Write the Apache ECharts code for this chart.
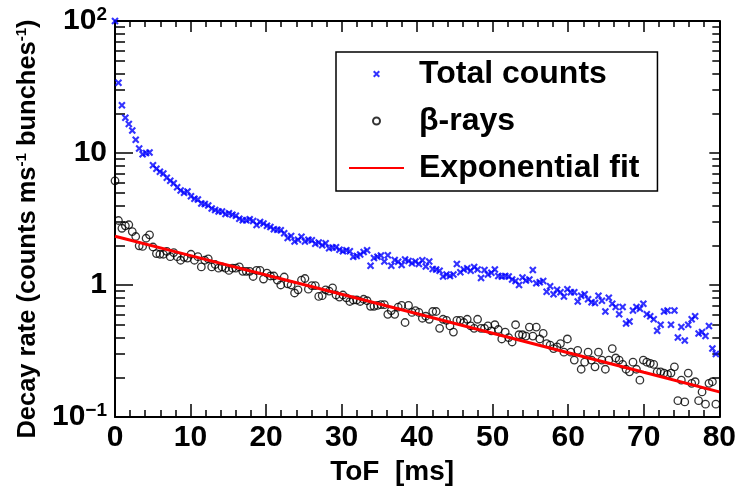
<!DOCTYPE html>
<html>
<head>
<meta charset="utf-8">
<script src="https://cdn.jsdelivr.net/npm/echarts@6/dist/echarts.min.js"></script>
<style>html,body{margin:0;padding:0;background:#fff}#c{width:739px;height:492px}</style>
</head>
<body>
<div id="c"></div>
<script>
// ---- data ----
const binWidth = 80 / 175;               // histogram bin width in ms
const totalCounts = [
  100, 34, 23, 18.5, 16.6, 14.8, 12.6, 10.8, 9.8, 10.0, 10.1, 8.07, 7.6, 7.2, 7.0, 6.5, 6.15, 5.9, 5.5, 5.2,
  5.0, 5.1, 4.7, 4.5, 4.45, 4.15, 4.1, 4.0, 3.8, 3.7, 3.6, 3.6, 3.45, 3.5, 3.4, 3.35, 3.17, 3.1, 3.1, 3.15,
  3.06, 2.85, 3.0, 2.92,
  2.81, 2.75, 2.65, 2.62, 2.6, 2.47, 2.27, 2.35, 2.14, 2.2, 2.32, 2.14, 2.2, 2.18, 2.05, 2.1, 2.0, 2.07, 1.9, 1.92,
  1.93, 1.85, 1.8, 1.83, 1.8, 1.64, 1.66, 1.7, 1.78, 1.83, 1.4, 1.6, 1.64, 1.67, 1.51, 1.68, 1.4, 1.55, 1.5, 1.42,
  1.56, 1.52, 1.46,
  1.51, 1.44, 1.54, 1.38, 1.51, 1.32, 1.31, 1.28, 1.16, 1.2, 1.17, 1.2, 1.44, 1.25, 1.31, 1.34, 1.28, 1.37, 1.31, 1.13,
  1.3, 1.2, 1.24, 1.31, 1.17, 1.16, 1.17, 1.16, 1.1, 1.07, 1.0, 1.14, 1.08, 1.1, 1.3, 1.03, 1.05, 1.07,
  0.89, 0.98, 0.85, 0.92, 0.88, 0.82, 0.93, 0.88, 0.88, 0.75, 0.83, 0.85, 0.78, 0.74, 0.73, 0.83, 0.76, 0.63, 0.8, 0.72,
  0.68, 0.6, 0.68, 0.51, 0.53, 0.64, 0.68, 0.66, 0.72, 0.6, 0.58, 0.55, 0.45, 0.5, 0.63, 0.64, 0.5, 0.64, 0.4, 0.48,
  0.38, 0.5, 0.55, 0.58, 0.43, 0.44, 0.41, 0.49, 0.33, 0.3
];
const betaRays = [
  6.15, 3.08, 2.69, 2.81, 2.86, 2.54, 2.33, 1.98, 1.96, 2.26, 2.4, 1.94, 1.73, 1.71, 1.71, 1.80, 1.64, 1.76, 1.64, 1.54,
  1.62, 1.6, 1.71, 1.54, 1.64, 1.37, 1.54, 1.58, 1.37, 1.43, 1.34, 1.37, 1.34, 1.29, 1.34, 1.34, 1.37, 1.27, 1.27, 1.27,
  1.16, 1.29, 1.29, 1.11, 1.23,
  1.17, 1.17, 1.09, 1.0, 1.15, 1.02, 1.0, 0.87, 0.92, 1.09, 1.12, 0.93, 0.99, 0.99, 0.82, 0.83, 0.92, 0.9, 0.95, 0.84,
  0.81, 0.84, 0.80, 0.75, 0.77, 0.77, 0.75, 0.78, 0.76, 0.69, 0.69, 0.70, 0.71, 0.71, 0.6, 0.64, 0.6, 0.68, 0.70, 0.52,
  0.70, 0.62, 0.64,
  0.62, 0.56, 0.58, 0.55, 0.63, 0.63, 0.47, 0.55, 0.54, 0.49, 0.44, 0.54, 0.54, 0.52, 0.55, 0.49, 0.47, 0.55, 0.47, 0.47,
  0.49, 0.45, 0.5, 0.46, 0.39, 0.44, 0.40, 0.37, 0.5, 0.42, 0.42, 0.41, 0.48, 0.41, 0.48, 0.39, 0.43, 0.36, 0.35,
  0.33, 0.34, 0.36, 0.31, 0.39,
  0.31, 0.27, 0.32, 0.23, 0.26, 0.31, 0.27, 0.24, 0.31, 0.27, 0.23, 0.27, 0.33, 0.28, 0.27, 0.25, 0.23, 0.22, 0.26,
  0.23, 0.19, 0.27, 0.26, 0.255, 0.25, 0.22, 0.22, 0.215, 0.21, 0.215, 0.24, 0.133, 0.19, 0.13, 0.215, 0.18, 0.185, 0.133, 0.155,
  0.125, 0.18, 0.185, 0.125
];
const fitTimes  = [0, 10, 20, 30, 40, 50, 60, 70, 80];
const fitValues = [2.34, 1.67, 1.19, 0.85, 0.605, 0.431, 0.307, 0.218, 0.155];

const xTickValues = [0, 10, 20, 30, 40, 50, 60, 70, 80];
const yMajorTicks = [0.1, 1, 10, 100];
const yTickBase   = ['10', '1', '10', '10'];
const yTickExp    = ['\u22121', '', '', '2'];
const yMinorTicks = [0.2,0.3,0.4,0.5,0.6,0.7,0.8,0.9, 2,3,4,5,6,7,8,9, 20,30,40,50,60,70,80,90];

const seriesNames = ['Total counts', '\u03b2-rays', 'Exponential fit'];
const xTitle = 'ToF  [ms]';

// ---- chart ----
const FONT = '"Liberation Sans", Arial, Helvetica, sans-serif';
const BLACK = '#000';
const crossPath = 'path://M0,2L2,0L5,3L8,0L10,2L7,5L10,8L8,10L5,7L2,10L0,8L3,5Z';

const chart = echarts.init(document.getElementById('c'), null, {renderer: 'canvas'});

function yLabel(v) {
  const k = yMajorTicks.findIndex(t => Math.abs(Math.log10(t) - Math.log10(v)) < 1e-6);
  if (k < 0) return '';
  return yTickExp[k] ? '{n|' + yTickBase[k] + '}{s|' + yTickExp[k] + '}' : '{n|' + yTickBase[k] + '}';
}

const logBase = {type: 'log', logBase: 10, min: 0.1, max: 100, splitLine: {show: false}};

chart.setOption({
  animation: false,
  backgroundColor: '#fff',
  grid: {left: 115, right: 15, top: 21, bottom: 75, containLabel: false},
  legend: {
    orient: 'vertical', left: 336, top: 52,
    padding: [6, 18, 7, 12], itemGap: 15, itemWidth: 55, itemHeight: 7,
    borderColor: BLACK, borderWidth: 1.5, backgroundColor: '#fff',
    textStyle: {fontFamily: FONT, fontSize: 32, fontWeight: 'bold', color: BLACK, padding: [0, 0, 0, 10]},
    data: [
      {name: seriesNames[0]},
      {name: seriesNames[1]},
      {name: seriesNames[2], itemStyle: {opacity: 0}}
    ]
  },
  xAxis: [
    {
      type: 'value', min: 0, max: 80, interval: 10, position: 'bottom',
      name: xTitle, nameLocation: 'middle', nameGap: 33,
      nameTextStyle: {fontFamily: FONT, fontSize: 28, fontWeight: 'bold', color: BLACK, padding: [0, 50, 0, 0]},
      axisLine: {show: true, onZero: false, lineStyle: {color: BLACK, width: 2}},
      axisTick: {show: true, inside: true, length: 13, lineStyle: {color: BLACK, width: 1.5}},
      minorTick: {show: true, splitNumber: 5, length: 7, lineStyle: {color: BLACK, width: 1.5}},
      axisLabel: {margin: 6, fontFamily: FONT, fontSize: 30, fontWeight: 'bold', color: BLACK,
        formatter: v => xTickValues.includes(v) ? String(v) : ''},
      splitLine: {show: false}
    },
    {
      type: 'value', min: 0, max: 80, interval: 10, position: 'top',
      axisLine: {show: true, onZero: false, lineStyle: {color: BLACK, width: 2}},
      axisTick: {show: true, inside: true, length: 11, lineStyle: {color: BLACK, width: 1.5}},
      minorTick: {show: true, splitNumber: 5, length: 6, lineStyle: {color: BLACK, width: 1.5}},
      axisLabel: {show: false}, splitLine: {show: false}
    }
  ],
  yAxis: [
    Object.assign({}, logBase, {
      position: 'left',
      name: '{t|Decay rate (counts ms}{s|-1}{t| bunches}{s|-1}{t|)}',
      nameLocation: 'middle', nameGap: 70,
      nameTextStyle: {color: BLACK, padding: [0, 20, 0, 0],
        rich: {
          t: {fontFamily: FONT, fontSize: 25.5, fontWeight: 'bold', color: BLACK, lineHeight: 28},
          s: {fontFamily: FONT, fontSize: 15, fontWeight: 'bold', color: BLACK, verticalAlign: 'top', lineHeight: 16}
        }},
      axisLine: {show: true, onZero: false, lineStyle: {color: BLACK, width: 2}},
      axisTick: {show: true, inside: true, length: 18, lineStyle: {color: BLACK, width: 1.5}},
      axisLabel: {margin: 8, color: BLACK, formatter: yLabel,
        rich: {
          n: {fontFamily: FONT, fontSize: 30, fontWeight: 'bold', color: BLACK, lineHeight: 32},
          s: {fontFamily: FONT, fontSize: 19, fontWeight: 'bold', color: BLACK, verticalAlign: 'top', lineHeight: 20}
        }}
    }),
    Object.assign({}, logBase, {
      position: 'left',
      axisLine: {show: false, onZero: false},
      axisTick: {show: true, inside: true, length: 10, customValues: yMinorTicks, lineStyle: {color: BLACK, width: 1.5}},
      axisLabel: {show: false}
    }),
    Object.assign({}, logBase, {
      position: 'right',
      axisLine: {show: true, onZero: false, lineStyle: {color: BLACK, width: 2}},
      axisTick: {show: true, inside: true, length: 10, lineStyle: {color: BLACK, width: 1.5}},
      axisLabel: {show: false}
    }),
    Object.assign({}, logBase, {
      position: 'right',
      axisLine: {show: false, onZero: false},
      axisTick: {show: true, inside: true, length: 7, customValues: yMinorTicks, lineStyle: {color: BLACK, width: 1.5}},
      axisLabel: {show: false}
    })
  ],
  series: [
    {
      name: seriesNames[0], type: 'scatter', xAxisIndex: 0, yAxisIndex: 0,
      symbol: crossPath, symbolSize: 7.5,
      itemStyle: {color: '#0000ff'},
      data: totalCounts.map((v, i) => [i * binWidth, v]),
      z: 2
    },
    {
      name: seriesNames[1], type: 'scatter', xAxisIndex: 0, yAxisIndex: 0,
      symbol: 'circle', symbolSize: 7.5,
      itemStyle: {color: 'rgba(0,0,0,0)', borderColor: BLACK, borderWidth: 1.3},
      data: betaRays.map((v, i) => [i * binWidth, v]),
      z: 3
    },
    {
      name: seriesNames[2], type: 'line', xAxisIndex: 0, yAxisIndex: 0,
      symbol: 'none', showSymbol: false,
      lineStyle: {color: '#ff0000', width: 3},
      itemStyle: {color: '#ff0000'},
      data: fitTimes.map((t, i) => [t, fitValues[i]]),
      z: 4
    }
  ]
});
</script>
</body>
</html>
